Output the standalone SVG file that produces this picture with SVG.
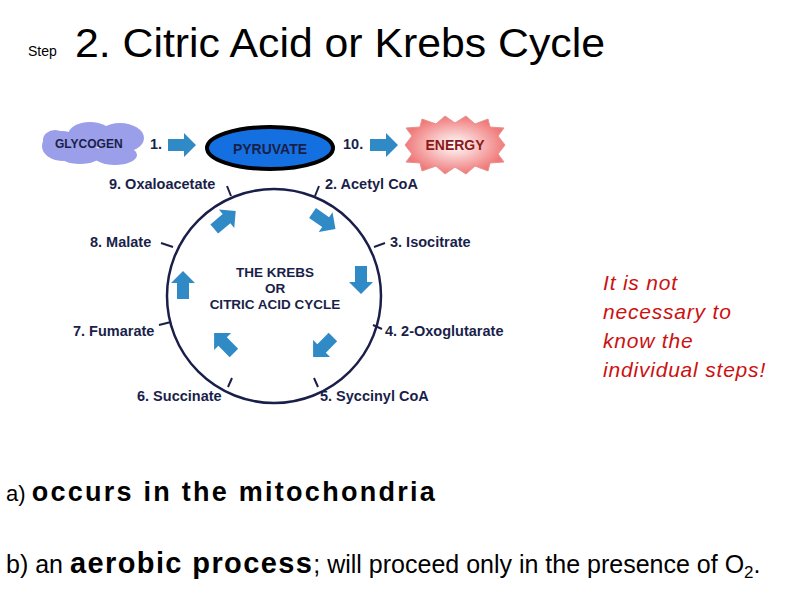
<svg xmlns="http://www.w3.org/2000/svg" width="800" height="600" viewBox="0 0 800 600">
<style>
.t{font-family:"Liberation Sans",Arial,sans-serif;fill:#000}
.lb{font-family:"Liberation Sans",Arial,sans-serif;font-weight:bold;font-size:14.5px;fill:#1a1f4a}
.tick{stroke:#1a1f4a;stroke-width:2}
.red{font-family:"Liberation Sans",Arial,sans-serif;font-style:italic;font-size:21px;letter-spacing:0.8px;fill:#cc1111}
</style>
<defs>
<path id="ar" d="M-14,-6 L2,-6 L2,-12 L14,0 L2,12 L2,6 L-14,6 Z" fill="#2f8ac6"/>
<radialGradient id="eg"><stop offset="0" stop-color="#fff"/><stop offset="1" stop-color="#f07a7a"/></radialGradient>
</defs>
<rect width="800" height="600" fill="#fff"/>
<text class="t" x="28" y="56" font-size="14">Step</text>
<text class="t" x="75" y="57" font-size="40" textLength="530" lengthAdjust="spacingAndGlyphs">2. Citric Acid or Krebs Cycle</text>
<g id="glycogen">
<g fill="#9b9ee8">
<ellipse cx="62" cy="146" rx="20" ry="15"/><ellipse cx="90" cy="135" rx="22" ry="13"/><ellipse cx="120" cy="138" rx="24" ry="15"/>
<ellipse cx="80" cy="154" rx="22" ry="10"/><ellipse cx="115" cy="155" rx="22" ry="10"/><ellipse cx="55" cy="140" rx="12" ry="10"/>
</g>
<text class="lb" x="55" y="148" style="font-size:12px">GLYCOGEN</text>
</g>
<g id="pyruvate">
<ellipse cx="270" cy="148" rx="63" ry="21" fill="#1470e0" stroke="#000" stroke-width="4"/>
<text class="lb" x="270" y="154" text-anchor="middle" style="font-size:14px">PYRUVATE</text>
</g>
<g id="energy">
<polygon fill="url(#eg)" stroke="#e89090" points="405,145 412,136 406,128 420,127 422,119 436,124 445,116 455,123 466,116 475,124 488,119 490,127 504,128 498,136 505,145 498,154 504,162 490,163 488,171 475,166 466,174 455,167 445,174 436,166 422,171 420,163 406,162 412,154"/>
<text class="lb" x="455" y="150" text-anchor="middle" style="fill:#8b1a1a;font-size:14px">ENERGY</text>
</g>
<g id="cycle">
<circle cx="274" cy="296" r="107" fill="none" stroke="#1a1f4a" stroke-width="2.5"/>
<text class="lb" x="275" y="277" text-anchor="middle" style="font-size:13.5px">THE KREBS</text>
<text class="lb" x="275" y="293" text-anchor="middle" style="font-size:13.5px">OR</text>
<text class="lb" x="275" y="309" text-anchor="middle" style="font-size:13.5px">CITRIC ACID CYCLE</text>
</g>
<g id="labels">
<text class="lb" x="150" y="149">1.</text>
<text class="lb" x="343" y="149">10.</text>
<text class="lb" x="109" y="189">9. Oxaloacetate</text>
<text class="lb" x="325" y="189">2. Acetyl CoA</text>
<text class="lb" x="90" y="247">8. Malate</text>
<text class="lb" x="390" y="247">3. Isocitrate</text>
<text class="lb" x="73" y="336">7. Fumarate</text>
<text class="lb" x="385" y="336">4. 2-Oxoglutarate</text>
<text class="lb" x="137" y="401">6. Succinate</text>
<text class="lb" x="320" y="401">5. Syccinyl CoA</text>
</g>
<g id="connectors">
<line class="tick" x1="227" y1="186" x2="231" y2="196"/>
<line class="tick" x1="319" y1="186" x2="315" y2="196"/>
<line class="tick" x1="161" y1="243" x2="173" y2="247"/>
<line class="tick" x1="385" y1="243" x2="374" y2="247"/>
<line class="tick" x1="159" y1="325" x2="171" y2="322"/>
<line class="tick" x1="382" y1="329" x2="373" y2="325"/>
<line class="tick" x1="228" y1="387" x2="232" y2="378"/>
<line class="tick" x1="318" y1="387" x2="314" y2="378"/>
<use href="#ar" transform="translate(182,145)"/>
<use href="#ar" transform="translate(384,145)"/>
<use href="#ar" transform="translate(225,220) rotate(-40)"/>
<use href="#ar" transform="translate(324,221) rotate(35)"/>
<use href="#ar" transform="translate(361,280) rotate(90)"/>
<use href="#ar" transform="translate(323,347) rotate(135)"/>
<use href="#ar" transform="translate(224,343) rotate(-135)"/>
<use href="#ar" transform="translate(183,285) rotate(-90)"/>
</g>
<text class="red" x="603" y="290">It is not</text>
<text class="red" x="603" y="319">necessary to</text>
<text class="red" x="603" y="348">know the</text>
<text class="red" x="603" y="377">individual steps!</text>
<text class="t" x="6" y="501" font-size="22">a) <tspan font-size="27" style="font-weight:600" textLength="403" lengthAdjust="spacing">occurs in the mitochondria</tspan></text>
<text class="t" x="6" y="573" font-size="25">b) an <tspan font-size="29" style="font-weight:600" textLength="242" lengthAdjust="spacing">aerobic process</tspan>; will proceed only in the presence of O<tspan font-size="17" dy="5">2</tspan><tspan dy="-5">.</tspan></text>
</svg>
